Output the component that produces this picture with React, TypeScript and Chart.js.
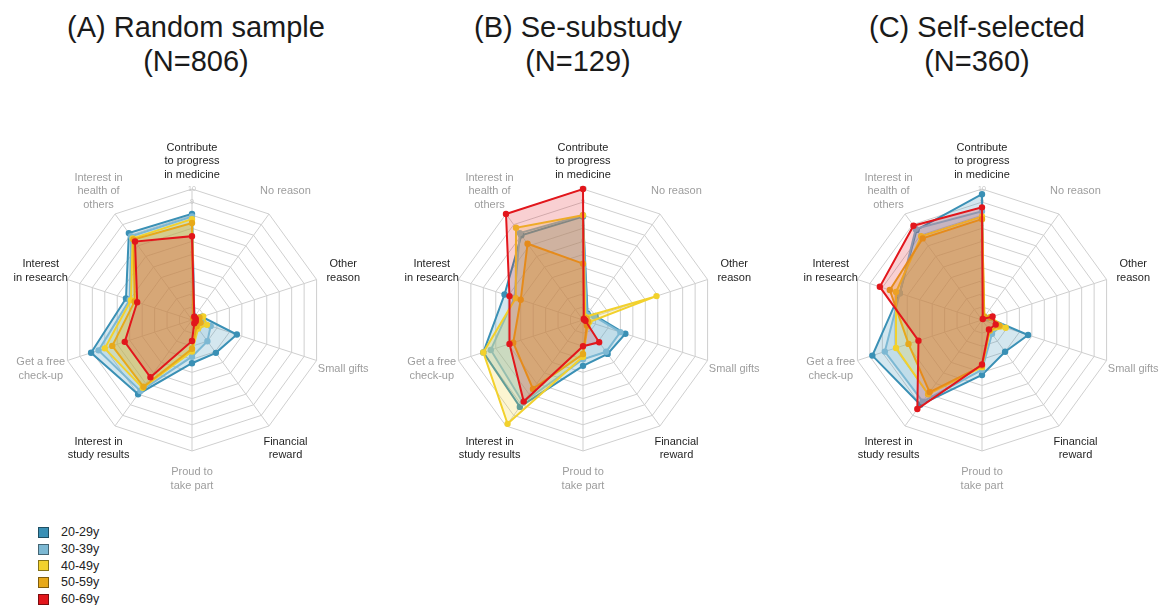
import React, { useEffect, useRef } from "react";
import { Chart, registerables } from "chart.js";
Chart.register(...registerables);

// Axes, clockwise from the top
const axisLabels: string[][] = [
  ["Contribute", "to progress", "in medicine"],
  ["No reason"],
  ["Other", "reason"],
  ["Small gifts"],
  ["Financial", "reward"],
  ["Proud to", "take part"],
  ["Interest in", "study results"],
  ["Get a free", "check-up"],
  ["Interest", "in research"],
  ["Interest in", "health of", "others"],
];
const axisEmphasis = [true, false, true, false, true, false, true, false, true, false];

const seriesNames = ["20-29y", "30-39y", "40-49y", "50-59y", "60-69y"];
const seriesColors = ["#3a90b5", "#7cb8d3", "#f2d12c", "#e7a91b", "#e2161c"];
const seriesFills = [
  "rgba(58,144,181,0.22)",
  "rgba(124,184,211,0.22)",
  "rgba(242,209,44,0.22)",
  "rgba(231,169,27,0.30)",
  "rgba(226,22,28,0.20)",
];

const scaleMin = 0;
const scaleMax = 10;
const scaleStep = 1;

// (A) Random sample
const titleA = ["(A) Random sample", "(N=806)"];
const a20 = [8.1, 0.3, 0.8, 3.6, 3.1, 3.3, 7.0, 8.1, 5.3, 8.2];
const a30 = [7.9, 0.3, 0.6, 1.5, 2.0, 2.8, 6.7, 7.5, 5.0, 7.9];
const a40 = [7.7, 0.2, 0.9, 1.2, 0.8, 2.4, 6.4, 7.0, 4.9, 7.7];
const a50 = [7.4, 0.2, 0.6, 0.7, 0.6, 2.2, 6.3, 6.4, 4.6, 7.6];
const a60 = [6.4, 0.3, 0.3, 0.3, 0.3, 1.6, 5.4, 5.4, 4.4, 7.4];

// (B) Se-substudy
const titleB = ["(B) Se-substudy", "(N=129)"];
const b20 = [7.9, 0.6, 1.0, 3.4, 3.2, 3.5, 8.2, 8.0, 6.3, 8.0];
const b30 = [8.0, 0.5, 0.9, 3.0, 3.0, 3.0, 7.8, 7.4, 5.5, 8.2];
const b40 = [8.0, 0.3, 5.9, 0.5, 0.6, 2.8, 9.8, 8.0, 5.4, 8.7];
const b50 = [4.3, 0.2, 0.3, 0.4, 0.5, 2.6, 6.5, 5.6, 5.0, 7.2];
const b60 = [10.0, 0.1, 0.1, 0.2, 2.1, 2.0, 7.7, 5.9, 5.9, 10.0];

// (C) Self-selected
const titleC = ["(C) Self-selected", "(N=360)"];
const c20 = [9.6, 0.2, 0.5, 3.7, 3.0, 4.2, 8.0, 8.8, 6.6, 8.5];
const c30 = [8.3, 0.2, 0.5, 1.5, 1.3, 3.8, 7.7, 7.8, 6.6, 8.6];
const c40 = [7.9, 0.3, 0.7, 1.9, 1.0, 3.6, 7.0, 6.9, 6.9, 7.9];
const c50 = [7.7, 0.3, 0.7, 1.4, 1.0, 3.5, 6.8, 5.9, 7.4, 7.7];
const c60 = [8.6, 0.1, 0.85, 1.1, 0.9, 3.4, 8.4, 5.1, 8.2, 8.9];

const FONT = "'Liberation Sans', Arial, Helvetica, sans-serif";
const LABEL_GAP = 28;
const LABEL_LINE = 13.5;

// Centred, multi-line axis labels placed with the radial scale's own geometry
const centeredPointLabels = {
  id: "centeredPointLabels",
  afterDraw(chart: any) {
    const scale: any = chart.scales.r;
    const ctx = chart.ctx;
    ctx.save();
    ctx.font = `11px ${FONT}`;
    ctx.textAlign = "center";
    ctx.textBaseline = "middle";
    axisLabels.forEach((lines, i) => {
      const p = scale.getPointPosition(i, scale.drawingArea + LABEL_GAP);
      ctx.fillStyle = axisEmphasis[i] ? "#1e1e1e" : "#9d9d9d";
      const n = lines.length;
      lines.forEach((t, k) => ctx.fillText(t, p.x, p.y + (k - (n - 1) / 2) * LABEL_LINE));
    });
    ctx.restore();
  },
};

function RadarPanel(props: { values: number[][]; left: number; top: number }) {
  const ref = useRef<HTMLCanvasElement | null>(null);
  useEffect(() => {
    if (!ref.current) return;
    const chart = new Chart(ref.current, {
      type: "radar",
      data: {
        labels: axisLabels,
        datasets: props.values.map((vals, i) => ({
          label: seriesNames[i],
          data: vals,
          borderColor: seriesColors[i],
          backgroundColor: seriesFills[i],
          pointBackgroundColor: seriesColors[i],
          pointBorderColor: seriesColors[i],
          pointRadius: 2.2,
          borderWidth: 2,
          fill: true,
          tension: 0,
          order: seriesNames.length - 1 - i,
        })),
      },
      options: {
        responsive: false,
        animation: false,
        layout: { padding: { left: 64, right: 63, top: 64, bottom: 63 } },
        plugins: {
          legend: { display: false },
          title: { display: false },
          tooltip: { enabled: false },
        },
        scales: {
          r: {
            min: scaleMin,
            max: scaleMax,
            beginAtZero: true,
            ticks: {
              stepSize: scaleStep,
              display: true,
              showLabelBackdrop: false,
              color: "#c4c4c4",
              font: { size: 7, family: FONT },
              backdropPadding: 2,
            },
            grid: { color: "#cfcfcf", lineWidth: 1, circular: false },
            angleLines: { color: "#cfcfcf", lineWidth: 1 },
            pointLabels: { display: false },
          },
        },
      },
      plugins: [centeredPointLabels],
    });
    return () => chart.destroy();
  }, []);
  return (
    <canvas
      ref={ref}
      width={400}
      height={400}
      style={{ position: "absolute", left: props.left, top: props.top, width: 400, height: 400 }}
    />
  );
}

function Title(props: { lines: string[]; center: number }) {
  return (
    <div
      style={{
        position: "absolute",
        left: props.center - 200,
        top: 10,
        width: 400,
        textAlign: "center",
        fontFamily: FONT,
        fontSize: 29,
        lineHeight: "34px",
        color: "#1a1a1a",
      }}
    >
      {props.lines.map((l, i) => (
        <div key={i}>{l}</div>
      ))}
    </div>
  );
}

export default function App() {
  return (
    <div
      style={{
        position: "absolute",
        left: 0,
        top: 0,
        width: 1172,
        height: 605,
        overflow: "hidden",
        background: "#ffffff",
      }}
    >
      <RadarPanel values={[a20, a30, a40, a50, a60]} left={-8} top={120} />
      <RadarPanel values={[b20, b30, b40, b50, b60]} left={383} top={120} />
      <RadarPanel values={[c20, c30, c40, c50, c60]} left={782} top={120} />
      <Title lines={titleA} center={196} />
      <Title lines={titleB} center={578} />
      <Title lines={titleC} center={977} />
      <div style={{ position: "absolute", left: 38, top: 524, fontFamily: FONT, fontSize: 12.5, color: "#222" }}>
        {seriesNames.map((n, i) => (
          <div key={n} style={{ display: "flex", alignItems: "center", height: 16.7 }}>
            <div
              style={{
                width: 9,
                height: 9,
                background: seriesColors[i],
                border: "1px solid rgba(0,0,0,0.45)",
                marginRight: 12,
              }}
            />
            <span>{n}</span>
          </div>
        ))}
      </div>
    </div>
  );
}
